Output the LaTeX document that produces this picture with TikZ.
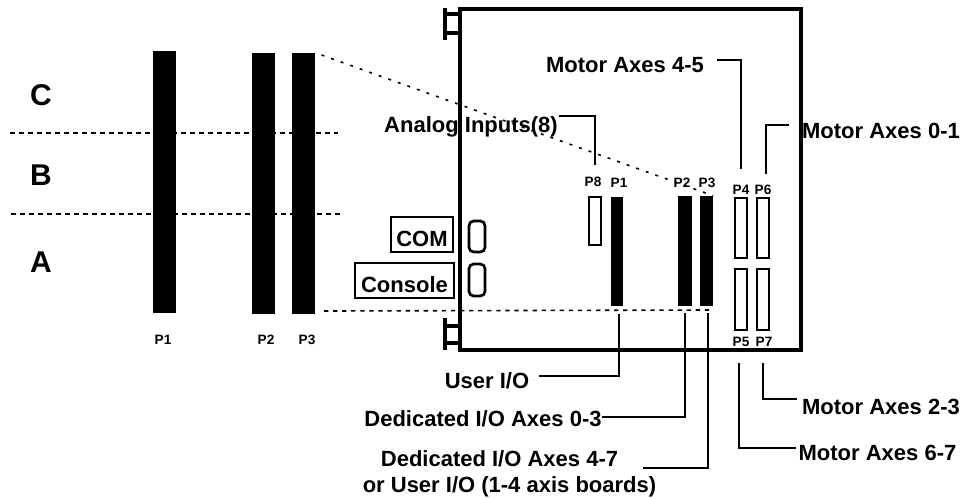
\documentclass[tikz,border=0pt]{standalone}
\usepackage{fontspec}
\setmainfont{Liberation Sans}
\usetikzlibrary{calc}

\begin{document}
\begin{tikzpicture}[
                x=0.75pt,y=-0.75pt,
                pxsize/.style 2 args={minimum width=#1*0.75pt,minimum height=#2*0.75pt},
                bigtext/.style={font=\bfseries\fontsize{16.5}{19.5}\selectfont,inner sep=0pt,text height=11.8pt,text depth=0pt},
                zonetext/.style={font=\bfseries\fontsize{22.5}{26}\selectfont,inner sep=0pt},
                pintext/.style={font=\bfseries\fontsize{10.2}{12}\selectfont,inner sep=0pt},
                solidbar/.style={rectangle,fill=black,inner sep=0pt},
                hollowbar/.style={rectangle,draw=black,fill=white,line width=1.1pt,inner sep=0pt},
                portshape/.style={rectangle,draw=black,rounded corners=3.5pt,line width=2pt,inner sep=0pt},
                framebox/.style={bigtext,draw=black,line width=1.1pt,text height=17.8pt},
                boardline/.style={line width=2.6pt},
                leader/.style={line width=1.1pt},
                zoneline/.style={line width=1.5pt,dash pattern=on 3.75pt off 3pt},
                guideline/.style={line width=1.2pt,dash pattern=on 2.2pt off 5.4pt}
            ]
                \useasboundingbox (0,0) rectangle (961,497);

                \node[rectangle,draw=black,line width=3pt,inner sep=0pt,pxsize={340.5}{341}] (board) at (630.25,179.5) {};
                \draw[boardline] (445,8) -- (445,40);
                \draw[boardline] (445,14) -- (board.west |- 445,14);
                \draw[boardline] (445,33) -- (board.west |- 445,33);
                \draw[boardline] (445,318) -- (445,350);
                \draw[boardline] (445,326) -- (board.west |- 445,326);
                \draw[boardline] (445,343) -- (board.west |- 445,343);

                \draw[zoneline] (10,133) -- (338,133);
                \draw[zoneline] (11,214) -- (340,214);

                \node[solidbar,pxsize={23}{262}] (barLone) at (164.5,182) {};
                \node[solidbar,pxsize={23}{261}] (barLtwo) at (263.5,183.5) {};
                \node[solidbar,pxsize={23}{261}] (barLthree) at (303.5,183.5) {};

                \node[zonetext] (zoneC) at (41,95) {C};
                \node[zonetext] (zoneB) at (41,175) {B};
                \node[zonetext] (zoneA) at (41,262) {A};

                \node[pintext] (pinLone) at (163,340) {P1};
                \node[pintext] (pinLtwo) at (266,340) {P2};
                \node[pintext] (pinLthree) at (307,340) {P3};

                \node[hollowbar,pxsize={12}{48}] (barEight) at (595,221) {};
                \node[solidbar,pxsize={12}{109}] (barRone) at (617,251.5) {};
                \node[solidbar,pxsize={14}{110}] (barRtwo) at (685,251) {};
                \node[solidbar,pxsize={13}{110}] (barRthree) at (706.5,251) {};
                \node[hollowbar,pxsize={12}{60}] (barFour) at (741,228) {};
                \node[hollowbar,pxsize={12}{60}] (barSix) at (763,228) {};
                \node[hollowbar,pxsize={12}{61}] (barFive) at (741,299.5) {};
                \node[hollowbar,pxsize={12}{61}] (barSeven) at (763,299.5) {};

                \node[pintext] (pinEight) at (593,182) {P8};
                \node[pintext] (pinRone) at (619,183) {P1};
                \node[pintext] (pinRtwo) at (682,183) {P2};
                \node[pintext] (pinRthree) at (707,183) {P3};
                \node[pintext] (pinFour) at (741,190) {P4};
                \node[pintext] (pinSix) at (763,190) {P6};
                \node[pintext] (pinFive) at (741,342) {P5};
                \node[pintext] (pinSeven) at (764,342) {P7};

                \draw[guideline,shorten <=5pt] (barLthree.north east) -- (barRthree.north east);
                \coordinate (guideFrom) at (324,311);
                \coordinate (guideTo) at (713,310);
                \draw[guideline,dash pattern=on 3.2pt off 3.6pt] (guideFrom) -- (guideTo);

                \node[portshape,pxsize={16}{31}] (portCom) at (477,236.5) {};
                \node[portshape,pxsize={16}{32}] (portConsole) at (477,280) {};
                \node[framebox,pxsize={62}{35}] (boxCom) at (422,234.5) {COM};
                \node[framebox,pxsize={99}{35}] (boxConsole) at (404.5,280.5) {Console};

                \node[bigtext] (lblMotorFour) at (625,65) {Motor Axes 4-5};
                \node[bigtext] (lblMotorZero) at (881,131) {Motor Axes 0-1};
                \node[bigtext] (lblAnalog) at (471,125) {Analog Inputs(8)};
                \node[bigtext] (lblUser) at (487,381) {User I/O};
                \node[bigtext] (lblDedA) at (483,419) {Dedicated I/O Axes 0-3};
                \node[font=\bfseries\fontsize{16.5}{19.5}\selectfont,inner sep=0pt,align=center] (lblDedB) at (509.5,474) {Dedicated I/O Axes 4-7\hspace*{15pt}\\or User I/O (1-4 axis boards)};
                \node[bigtext] (lblMotorTwo) at (881,407) {Motor Axes 2-3};
                \node[bigtext] (lblMotorSix) at (877.5,453) {Motor Axes 6-7};

                \coordinate (tipMotorFour) at (741,169);
                \coordinate (tipMotorZero) at (766,174);
                \coordinate (tipAnalog) at (595,165);
                \coordinate (tipUser) at (619,314);
                \coordinate (tipDedA) at (685,313);
                \coordinate (tipDedB) at (708,313);
                \coordinate (tipMotorTwo) at (763,363);
                \coordinate (tipMotorSix) at (739,363);
                \coordinate (startDedB) at (643,468);

                \draw[leader] ($(lblMotorFour.east)+(13,-5)$) -| (tipMotorFour);
                \draw[leader] ($(lblMotorZero.west)+(-13,-6)$) -| (tipMotorZero);
                \draw[leader] ($(lblAnalog.east)+(1,-9)$) -| (tipAnalog);
                \draw[leader] ($(lblUser.east)+(10,-5)$) -| (tipUser);
                \draw[leader] ($(lblDedA.east)+(0,-2)$) -| (tipDedA);
                \draw[leader] (startDedB) -| (tipDedB);
                \draw[leader] ($(lblMotorTwo.west)+(-5,-8)$) -| (tipMotorTwo);
                \draw[leader] ($(lblMotorSix.west)+(-2,-5)$) -| (tipMotorSix);
            \end{tikzpicture}
\end{document}
